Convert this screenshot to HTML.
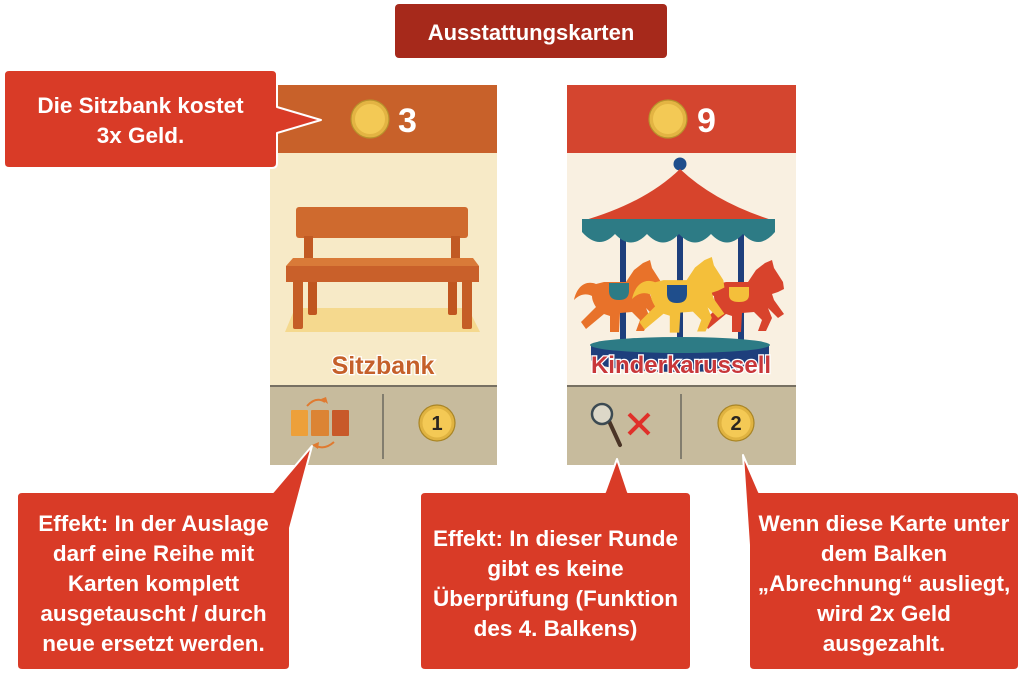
<!DOCTYPE html>
<html><head><meta charset="utf-8"><style>
html,body{margin:0;padding:0;background:#fff;}
svg{display:block;}
text{font-family:"Liberation Sans",Arial,sans-serif;font-weight:bold;}
</style></head><body>
<svg width="1024" height="674" viewBox="0 0 1024 674" xmlns="http://www.w3.org/2000/svg">
<defs>
<path id="horse" d="M22,24 C12,20 3,26 0,40 C6,34 12,33 18,36 C18,40 20,44 22,47 L7,62 L12,69 L30,54 L36,56 L36,72 L45,72 L46,53 L58,52 L66,60 L62,71 L70,71 L76,58 L72,48 L82,58 L88,54 L78,40 L76,34 L82,32 L88,29 L87,22 L78,8 L76,0 L69,3 L60,10 L52,22 L30,22 Z"/>
</defs>

<!-- Title -->
<rect x="395" y="4" width="272" height="54" rx="4" fill="#a6291b"/>
<text x="531" y="40" font-size="22" fill="#fff" text-anchor="middle">Ausstattungskarten</text>

<!-- CARD 1 -->
<rect x="270" y="85" width="227" height="380" fill="#f7eac7"/>
<rect x="270" y="85" width="227" height="68" fill="#c8612a"/>
<circle cx="370" cy="119" r="19" fill="#e3b443" stroke="#b8912c" stroke-width="1.2"/>
<circle cx="370" cy="119" r="15" fill="#f3c955"/>
<text x="398" y="132" font-size="34" fill="#fff">3</text>
<!-- bench -->
<polygon points="295,308 468,308 480,332 285,332" fill="#f5d98e"/>
<rect x="296" y="207" width="172" height="31" rx="3" fill="#cf6a2e"/>
<rect x="304" y="236" width="9" height="24" fill="#c15a23"/>
<rect x="451" y="236" width="9" height="24" fill="#c15a23"/>
<rect x="308" y="280" width="9" height="35" rx="2" fill="#c0561f"/>
<rect x="448" y="280" width="9" height="35" rx="2" fill="#c0561f"/>
<polygon points="293,258 473,258 479,266 286,266" fill="#d97a38"/>
<rect x="286" y="266" width="193" height="16" fill="#c9602a"/>
<rect x="293" y="280" width="10" height="49" rx="2" fill="#c55e26"/>
<rect x="462" y="280" width="10" height="49" rx="2" fill="#c55e26"/>
<text x="383" y="374" font-size="25" fill="#c5602a" stroke="#fff" stroke-width="2.5" paint-order="stroke" text-anchor="middle">Sitzbank</text>
<!-- bottom panel -->
<rect x="270" y="386" width="227" height="79" fill="#c7bb9d"/>
<rect x="270" y="385" width="227" height="2" fill="#777062"/>
<line x1="383" y1="394" x2="383" y2="459" stroke="#6b685e" stroke-width="1.5"/>
<rect x="291" y="410" width="17" height="26" rx="1" fill="#eda03a"/>
<rect x="311" y="410" width="18" height="26" rx="1" fill="#dc8434"/>
<rect x="332" y="410" width="17" height="26" rx="1" fill="#c8592a"/>
<path d="M307,406 Q316,396 325,402" fill="none" stroke="#e07a30" stroke-width="2"/>
<polygon points="328,404 321,399 326,397" fill="#e07a30"/>
<path d="M334,442 Q325,450 316,446" fill="none" stroke="#e07a30" stroke-width="2"/>
<polygon points="312,445 319,442 318,449" fill="#e07a30"/>
<circle cx="437" cy="423" r="18" fill="#e0b341" stroke="#a98526" stroke-width="1.2"/>
<circle cx="437" cy="423" r="14.5" fill="#f4c955"/>
<text x="437" y="430" font-size="20" fill="#2a2520" text-anchor="middle">1</text>

<!-- CARD 2 -->
<rect x="567" y="85" width="229" height="380" fill="#f9f0e1"/>
<rect x="567" y="85" width="229" height="68" fill="#d4452f"/>
<circle cx="668" cy="119" r="19" fill="#e3b443" stroke="#b8912c" stroke-width="1.2"/>
<circle cx="668" cy="119" r="15" fill="#f3c955"/>
<text x="697" y="132" font-size="34" fill="#fff">9</text>
<!-- carousel -->
<circle cx="680" cy="164" r="6.5" fill="#1f4e8c"/>
<path d="M680,169 Q645,203 582,221 L775,221 Q716,203 680,169 Z" fill="#d7442c"/>
<rect x="620" y="234" width="6" height="110" fill="#1e3f7c"/>
<rect x="677" y="234" width="6" height="110" fill="#1e3f7c"/>
<rect x="738" y="234" width="6" height="110" fill="#1e3f7c"/>
<path d="M582,219 H775 V232 Q759,251 743,234 Q727,251 711,234 Q695,251 679,234 Q663,251 647,234 Q631,251 615,234 Q599,251 582,232 Z" fill="#2d7b85"/>
<ellipse cx="680" cy="360" rx="89" ry="12" fill="#1e3f7c"/>
<rect x="591" y="346" width="178" height="14" fill="#1e3f7c"/>
<ellipse cx="680" cy="345" rx="90" ry="8" fill="#2d7b85"/>
<use href="#horse" transform="translate(574,260)" fill="#e8722a"/>
<use href="#horse" transform="translate(696,260)" fill="#d8432c"/>
<use href="#horse" transform="translate(632,257) scale(1.05,1.05)" fill="#f4bf3a"/>
<path d="M609,283 H629 V291 Q629,300 619,300 Q609,300 609,291 Z" fill="#2d7b85"/>
<path d="M667,285 H687 V294 Q687,303 677,303 Q667,303 667,294 Z" fill="#1f4e8c"/>
<path d="M729,287 H749 V295 Q749,302 739,302 Q729,302 729,295 Z" fill="#f4bf3a"/>
<text x="681" y="373" font-size="24" fill="#c8373a" stroke="#fff" stroke-width="2.5" paint-order="stroke" text-anchor="middle">Kinderkarussell</text>
<!-- bottom panel -->
<rect x="567" y="386" width="229" height="79" fill="#c7bb9d"/>
<rect x="567" y="385" width="229" height="2" fill="#777062"/>
<line x1="681" y1="394" x2="681" y2="459" stroke="#6b685e" stroke-width="1.5"/>
<line x1="609" y1="421" x2="620" y2="445" stroke="#4a3426" stroke-width="4" stroke-linecap="round"/>
<circle cx="602" cy="414" r="10" fill="#ddd8c8" stroke="#3c4a52" stroke-width="2.5"/>
<line x1="629" y1="414" x2="649" y2="434" stroke="#e0302a" stroke-width="4"/>
<line x1="649" y1="414" x2="629" y2="434" stroke="#e0302a" stroke-width="4"/>
<circle cx="736" cy="423" r="18" fill="#e0b341" stroke="#a98526" stroke-width="1.2"/>
<circle cx="736" cy="423" r="14.5" fill="#f4c955"/>
<text x="736" y="430" font-size="20" fill="#2a2520" text-anchor="middle">2</text>

<!-- Callouts -->
<g fill="#d93b27" stroke="#fff" stroke-width="2" stroke-linejoin="round">
<path d="M9,70 H272 Q277,70 277,75 V107 L321,120 L277,133 V163 Q277,168 272,168 H9 Q4,168 4,163 V75 Q4,70 9,70 Z"/>
<path d="M22,492 H273 L312,446 L290,528 V665 Q290,670 285,670 H22 Q17,670 17,665 V497 Q17,492 22,492 Z"/>
<path d="M425,492 H605 L617,459 L628,492 H686 Q691,492 691,497 V665 Q691,670 686,670 H425 Q420,670 420,665 V497 Q420,492 425,492 Z"/>
<path d="M759,492 H1014 Q1019,492 1019,497 V665 Q1019,670 1014,670 H754 Q749,670 749,665 V545 L743,455 Z"/>
</g>
<g font-size="22.5" fill="#fff" text-anchor="middle">
<text x="140.5" y="113">Die Sitzbank kostet</text>
<text x="140.5" y="143">3x Geld.</text>

<text x="153.5" y="531">Effekt: In der Auslage</text>
<text x="153.5" y="561">darf eine Reihe mit</text>
<text x="153.5" y="591">Karten komplett</text>
<text x="153.5" y="621">ausgetauscht / durch</text>
<text x="153.5" y="651">neue ersetzt werden.</text>

<text x="555.5" y="546">Effekt: In dieser Runde</text>
<text x="555.5" y="576">gibt es keine</text>
<text x="555.5" y="606">Überprüfung (Funktion</text>
<text x="555.5" y="636">des 4. Balkens)</text>

<text x="884" y="531">Wenn diese Karte unter</text>
<text x="884" y="561">dem Balken</text>
<text x="884" y="591">„Abrechnung“ ausliegt,</text>
<text x="884" y="621">wird 2x Geld</text>
<text x="884" y="651">ausgezahlt.</text>
</g>
</svg>
</body></html>
